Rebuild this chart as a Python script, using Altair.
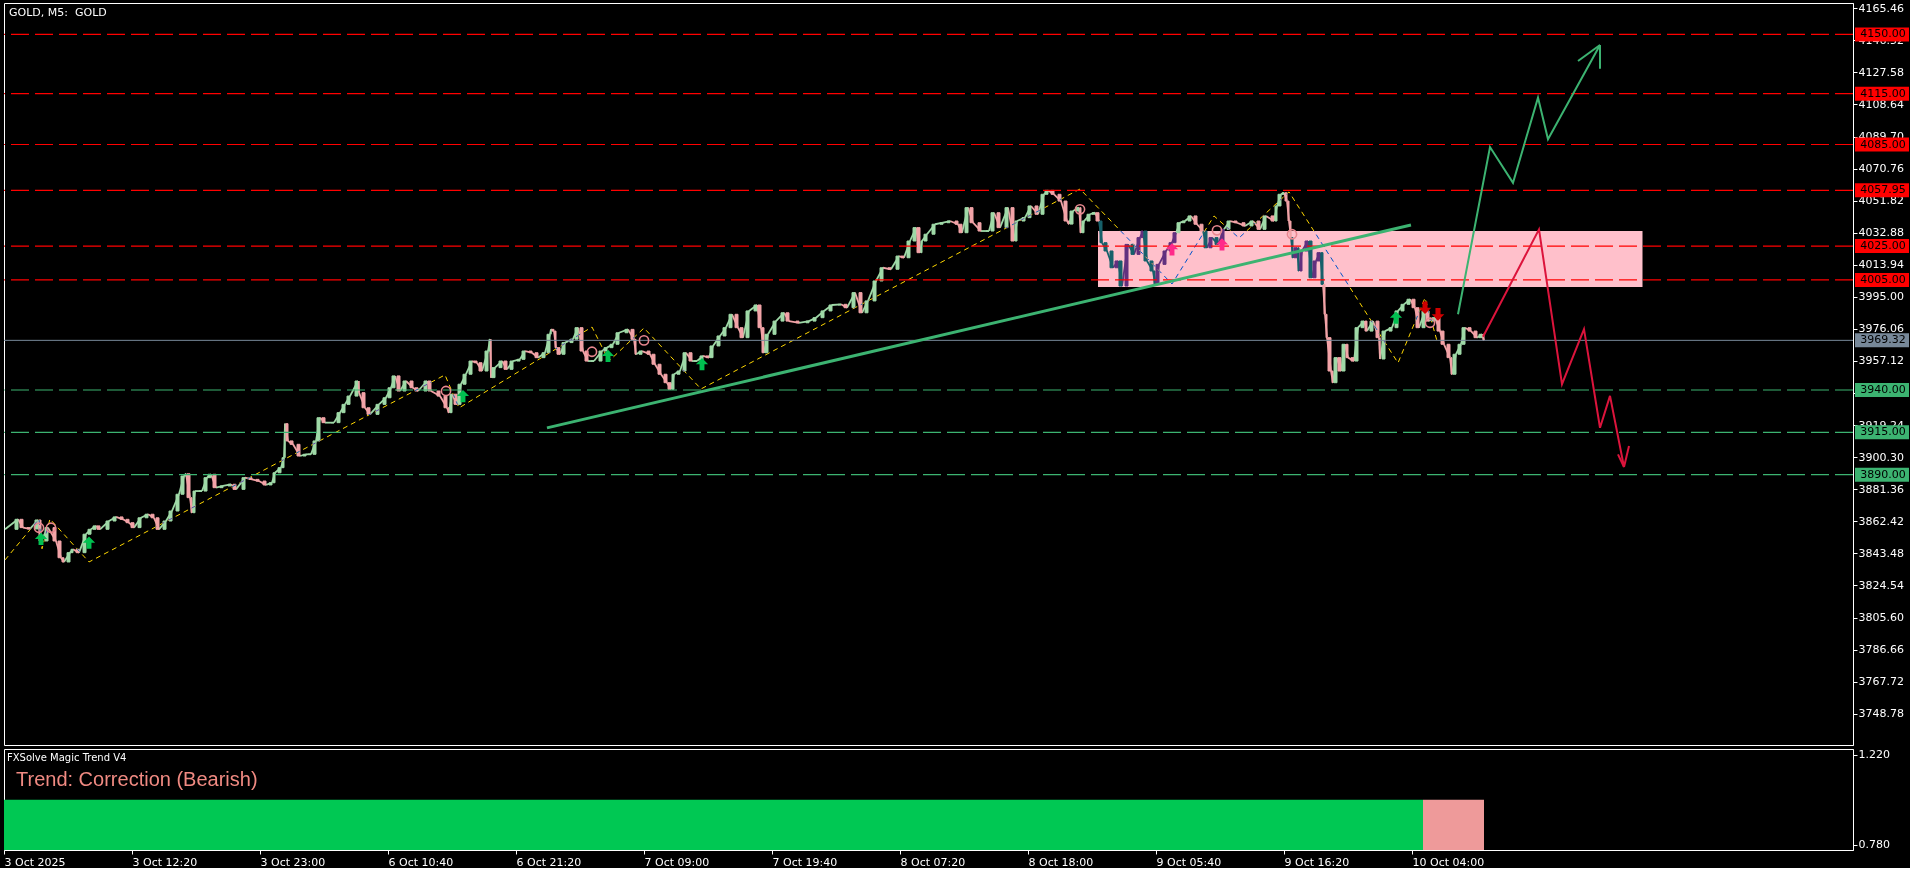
import json
import altair as alt
import pandas as pd

# ---------------------------------------------------------------- data
# one M5 bar per pixel column; bar index 0 is the first bar on the left
TIME_TICKS = [0, 128, 256, 384, 512, 640, 768, 896, 1024, 1152, 1280, 1408]
TIME_LABELS = ["3 Oct 2025", "3 Oct 12:20", "3 Oct 23:00", "6 Oct 10:40", "6 Oct 21:20",
               "7 Oct 09:00", "7 Oct 19:40", "8 Oct 07:20", "8 Oct 18:00", "9 Oct 05:40",
               "9 Oct 16:20", "10 Oct 04:00"]

PRICE_TICKS = [3748.78, 3767.72, 3786.66, 3805.60, 3824.54, 3843.48, 3862.42, 3881.36,
               3900.30, 3919.24, 3938.18, 3957.12, 3976.06, 3995.00, 4013.94, 4032.88,
               4051.82, 4070.76, 4089.70, 4108.64, 4127.58, 4146.52, 4165.46]

RESISTANCE = [4150.00, 4115.00, 4085.00, 4057.95, 4025.00, 4005.00]
SUPPORT = [3940.00, 3915.00, 3890.00]
LAST_PRICE = 3969.32

# price path (bar index, close)
PATH = [
    (1, 3857.7), (14, 3863.6), (19, 3858.7), (26, 3857.9), (34, 3863.2), (37, 3850.8),
    (44, 3858.7), (52, 3850.8), (57, 3840.9), (60, 3838.4), (66, 3843.9), (69, 3845.9),
    (75, 3843.9), (82, 3854.8), (87, 3857.7), (92, 3859.7), (96, 3857.7), (105, 3862.6),
    (112, 3865.0), (119, 3863.6), (125, 3861.6), (130, 3858.7), (137, 3864.5), (144, 3866.6),
    (150, 3864.5), (155, 3857.7), (162, 3862.6), (168, 3868.5), (175, 3878.4), (180, 3889.2),
    (182, 3890.5), (186, 3876.4), (188, 3867.5), (191, 3880.3), (198, 3880.3), (203, 3888.2),
    (207, 3890.2), (212, 3882.3), (219, 3883.3), (227, 3884.3), (232, 3881.3), (241, 3888.2),
    (248, 3887.2), (255, 3886.2), (262, 3883.9), (268, 3885.2), (271, 3891.1), (277, 3894.1),
    (280, 3900.0), (281, 3920.1), (284, 3909.9), (289, 3907.9), (296, 3901.0), (302, 3902.0),
    (307, 3902.0), (312, 3909.9), (316, 3923.6), (321, 3920.7), (330, 3920.7), (336, 3926.6),
    (341, 3931.5), (346, 3936.4), (354, 3945.3), (355, 3938.4), (361, 3929.5), (366, 3925.6),
    (375, 3931.5), (382, 3935.4), (387, 3941.3), (391, 3948.3), (396, 3939.4), (402, 3945.3),
    (409, 3941.3), (414, 3939.4), (423, 3945.3), (427, 3939.4), (436, 3936.4), (443, 3929.5),
    (445, 3926.6), (448, 3937.5), (453, 3931.5), (457, 3943.4), (462, 3949.3), (468, 3957.1),
    (473, 3956.1), (478, 3951.2), (484, 3963.0), (486, 3969.9), (487, 3947.3), (491, 3953.2),
    (498, 3957.1), (503, 3952.2), (509, 3957.1), (516, 3958.1), (521, 3963.0), (528, 3962.0),
    (534, 3959.1), (541, 3962.0), (546, 3972.9), (547, 3975.8), (550, 3974.8), (552, 3965.0),
    (556, 3961.1), (561, 3968.0), (569, 3970.0), (574, 3976.8), (579, 3963.0), (584, 3957.1),
    (590, 3957.1), (598, 3963.0), (603, 3965.0), (609, 3967.0), (615, 3973.8), (624, 3975.8),
    (630, 3969.9), (632, 3961.1), (638, 3963.0), (646, 3961.1), (651, 3955.2), (657, 3949.3),
    (663, 3944.3), (667, 3940.4), (670, 3949.3), (676, 3951.2), (682, 3962.0), (688, 3957.1),
    (693, 3957.1), (699, 3960.1), (705, 3959.1), (709, 3966.0), (716, 3971.9), (722, 3976.8),
    (728, 3984.7), (734, 3976.8), (739, 3970.9), (745, 3986.7), (753, 3990.2), (757, 3976.8),
    (760, 3962.0), (764, 3972.9), (772, 3980.7), (780, 3985.6), (785, 3980.7), (795, 3979.7),
    (805, 3980.7), (812, 3982.7), (820, 3986.7), (828, 3990.2), (837, 3990.6), (843, 3988.6),
    (851, 3997.5), (858, 3985.6), (864, 3992.6), (872, 4004.4), (879, 4012.2), (887, 4011.3),
    (895, 4019.1), (900, 4018.1), (906, 4028.0), (912, 4035.9), (916, 4021.1), (918, 4028.0),
    (923, 4032.0), (931, 4037.9), (939, 4038.8), (946, 4039.8), (954, 4037.9), (958, 4032.9),
    (964, 4047.7), (969, 4038.8), (977, 4033.9), (985, 4033.9), (990, 4044.7), (996, 4035.9),
    (1004, 4047.7), (1010, 4028.0), (1013, 4039.8), (1021, 4041.8), (1027, 4048.7), (1034, 4043.8),
    (1040, 4055.6), (1044, 4057.9), (1050, 4055.6), (1057, 4051.6), (1063, 4039.8), (1065, 4038.0),
    (1069, 4045.7), (1075, 4047.7), (1077, 4032.9), (1080, 4039.8), (1086, 4043.8), (1091, 4044.7),
    (1095, 4039.8), (1098, 4027.0), (1103, 4022.1), (1109, 4012.2), (1114, 4016.2), (1118, 4001.4),
    (1124, 4026.0), (1130, 4020.1), (1136, 4030.0), (1139, 4033.9), (1143, 4016.2), (1149, 4010.3),
    (1151, 4002.4), (1155, 4014.2), (1162, 4022.1), (1168, 4027.0), (1172, 4032.9), (1176, 4038.8),
    (1181, 4039.8), (1187, 4042.8), (1193, 4037.9), (1199, 4033.9), (1203, 4024.0), (1208, 4030.0),
    (1214, 4026.0), (1220, 4034.9), (1226, 4039.8), (1233, 4038.8), (1241, 4036.9), (1249, 4039.8),
    (1256, 4034.9), (1262, 4042.8), (1270, 4039.8), (1273, 4048.7), (1277, 4055.6), (1280, 4056.5),
    (1283, 4051.6), (1285, 4039.8), (1287, 4030.0), (1289, 4018.1), (1293, 4024.0), (1295, 4010.3),
    (1298, 4022.1), (1304, 4028.0), (1308, 4006.3), (1312, 4016.2), (1316, 4021.1), (1319, 4002.4),
    (1321, 3984.7), (1323, 3970.9), (1327, 3951.2), (1329, 3944.3), (1333, 3959.1), (1337, 3951.2),
    (1341, 3967.0), (1344, 3959.1), (1350, 3957.1), (1354, 3976.8), (1360, 3980.7), (1363, 3974.8),
    (1369, 3980.7), (1375, 3970.9), (1376, 3958.3), (1381, 3974.8), (1388, 3976.8), (1394, 3986.7),
    (1400, 3990.6), (1406, 3993.6), (1411, 3988.6), (1415, 3976.8), (1421, 3986.7), (1425, 3980.7),
    (1431, 3982.7), (1436, 3974.8), (1440, 3967.0), (1446, 3959.1), (1448, 3949.3), (1452, 3961.1),
    (1457, 3967.0), (1461, 3976.8), (1467, 3974.8), (1473, 3970.9), (1478, 3972.9), (1480, 3969.3),
]

# zigzag swing points (bar index, price)
ZIGZAG = [
    (1, 3839.6), (35, 3863.8), (38, 3846.2), (46, 3863.8), (85, 3838.4), (441, 3948.9),
    (455, 3929.4), (588, 3977.2), (605, 3957.1), (640, 3976.6), (697, 3940.6), (1076, 4058.7),
    (1168, 4002.6), (1210, 4042.8), (1235, 4029.8), (1285, 4057.0), (1394, 3956.0),
    (1421, 3994.4), (1433, 3969.0),
]

# supply/demand zone: bar range and price range
ZONE = (1094, 1638.5, 4000.8, 4033.9)

# rising trend line endpoints
TREND = [(543, 3917.6), (1407, 4037.5)]

# projected scenarios
BULL_PATH = [(1454, 3984.7), (1486, 4083.5), (1509, 4062.4), (1534, 4112.7), (1544, 4088.1), (1596, 4143.8)]
BULL_HEAD = [(1574, 4134.3), (1596, 4129.8)]
BEAR_PATH = [(1479, 3971.4), (1535, 4034.9), (1558, 3943.4), (1580, 3975.9), (1596, 3917.7),
             (1606, 3936.5), (1620, 3894.5)]
BEAR_HEAD = [(1614, 3902.0), (1625, 3906.9)]

# signal arrows (bar index, price)
BUY_SIGNALS = [(37, 3852.0), (85, 3849.8), (459, 3936.4), (604, 3960.1), (698, 3955.2), (1392, 3982.7)]
ZONE_BUY_SIGNALS = [(1168, 4023.1), (1218, 4026.0)]
SELL_SIGNALS = [(1421, 3988.6), (1434, 3984.7)]
PIVOT_MARKS = [(35, 3858.6), (47, 3858.6), (442, 3939.4), (588, 3962.6), (640, 3969.3),
               (1076, 4046.7), (1213, 4034.3), (1288, 4032.0), (1426, 3979.7)]

# trend state histogram: (from bar, to bar, state)
TREND_STATE = [(0, 1419, "Bullish"), (1419, 1480, "Correction")]

# ---------------------------------------------------------------- styles
FONT = "DejaVu Sans"
W, H_MAIN, H_IND = 1849, 742, 101
X_DOM = [0, 1849]
Y_DOM = [3730.29, 4168.59]
IND_DOM = [0.754, 1.2494]
UP_COL, DOWN_COL = "#9fd9a7", "#f2a3a7"
UP_IN_ZONE, DOWN_IN_ZONE = "#62307e", "#17606a"
RED, GREEN, GREY = "#ff0000", "#3cb371", "#778899"

xs = alt.Scale(domain=X_DOM, nice=False, zero=False)
ys = alt.Scale(domain=Y_DOM, nice=False, zero=False)

y_axis = alt.Axis(orient="right", values=PRICE_TICKS, format=".2f", title=None, grid=False,
                  domainColor="white", tickColor="white", tickSize=4, labelColor="white",
                  labelFont=FONT, labelFontSize=11, labelPadding=1, labelFlush=False,
                  labelOverlap=False)


def X(field):
    return alt.X(field, scale=xs, axis=None)


def Y(field):
    return alt.Y(field, scale=ys, axis=y_axis)


def in_zone(i, p):
    return ZONE[0] <= i <= ZONE[1] and ZONE[2] <= p <= ZONE[3]


# ---------------------------------------------------------------- main panel
zone_df = pd.DataFrame([{"x0": ZONE[0], "x1": ZONE[1], "p0": ZONE[2], "p1": ZONE[3]}])
zone = alt.Chart(zone_df).mark_rect(color="#ffc0cb").encode(
    x=X("x0:Q"), x2="x1:Q", y=Y("p0:Q"), y2="p1:Q")

rows = []
for (i0, p0), (i1, p1) in zip(PATH[:-1], PATH[1:]):
    up = p1 >= p0
    zone_hit = in_zone((i0 + i1) / 2, (p0 + p1) / 2)
    if zone_hit:
        col = UP_IN_ZONE if up else DOWN_IN_ZONE
    else:
        col = UP_COL if up else DOWN_COL
    rows.append({"i0": i0, "i1": i1, "b0": max(i1 - 3, i0 + 1), "open": p0, "close": p1, "col": col})
candle_df = pd.DataFrame(rows)

# thin connecting strokes between closes, then narrow bodies at each close
strokes = alt.Chart(candle_df).mark_rule(strokeWidth=1.8).encode(
    x=X("i0:Q"), x2="i1:Q", y=Y("open:Q"), y2="close:Q",
    color=alt.Color("col:N", scale=None))
bodies = alt.Chart(candle_df).mark_rect(strokeWidth=1).encode(
    x=X("b0:Q"), x2="i1:Q", y=Y("open:Q"), y2="close:Q",
    color=alt.Color("col:N", scale=None), stroke=alt.Stroke("col:N", scale=None))

zz_df = pd.DataFrame(ZIGZAG, columns=["idx", "price"])
zigzag = alt.Chart(zz_df).mark_line(color="#ffd700", strokeWidth=1, strokeDash=[5, 4],
                                    blend="exclusion").encode(x=X("idx:Q"), y=Y("price:Q"))

lev_df = pd.DataFrame([{"price": p, "col": RED, "label": f"{p:.2f}"} for p in RESISTANCE] +
                      [{"price": p, "col": GREEN, "label": f"{p:.2f}"} for p in SUPPORT])
levels = alt.Chart(lev_df).mark_rule(strokeWidth=1.2, strokeDash=[18, 6]).encode(
    y=Y("price:Q"), color=alt.Color("col:N", scale=None))

last_df = pd.DataFrame([{"price": LAST_PRICE, "col": GREY, "label": f"{LAST_PRICE:.2f}"}])
last_line = alt.Chart(last_df).mark_rule(strokeWidth=1, color=GREY).encode(y=Y("price:Q"))

trend_df = pd.DataFrame([{"x0": TREND[0][0], "p0": TREND[0][1], "x1": TREND[1][0], "p1": TREND[1][1]}])
trend = alt.Chart(trend_df).mark_rule(strokeWidth=3, color=GREEN).encode(
    x=X("x0:Q"), x2="x1:Q", y=Y("p0:Q"), y2="p1:Q")

proj_rows = [{"idx": i, "price": p, "col": GREEN, "seq": k} for k, (i, p) in enumerate(BULL_PATH)] + \
            [{"idx": i, "price": p, "col": "#dc143c", "seq": k} for k, (i, p) in enumerate(BEAR_PATH)]
proj = alt.Chart(pd.DataFrame(proj_rows)).mark_line(strokeWidth=2).encode(
    x=X("idx:Q"), y=Y("price:Q"), color=alt.Color("col:N", scale=None), order="seq:Q")

head_rows = [{"x0": BULL_PATH[-1][0], "p0": BULL_PATH[-1][1], "x1": i, "p1": p, "col": GREEN}
             for i, p in BULL_HEAD] + \
            [{"x0": BEAR_PATH[-1][0], "p0": BEAR_PATH[-1][1], "x1": i, "p1": p, "col": "#dc143c"}
             for i, p in BEAR_HEAD]
heads = alt.Chart(pd.DataFrame(head_rows)).mark_rule(strokeWidth=2).encode(
    x=X("x0:Q"), x2="x1:Q", y=Y("p0:Q"), y2="p1:Q", color=alt.Color("col:N", scale=None))

UP_ARROW = "M0,-1L1,0L0.4,0L0.4,1L-0.4,1L-0.4,0L-1,0Z"
DOWN_ARROW = "M0,1L1,0L0.4,0L0.4,-1L-0.4,-1L-0.4,0L-1,0Z"
up_df = pd.DataFrame([{"idx": i, "price": p, "col": "#00c050"} for i, p in BUY_SIGNALS] +
                     [{"idx": i, "price": p, "col": "#ff2a8a"} for i, p in ZONE_BUY_SIGNALS])
up_arrows = alt.Chart(up_df).mark_point(shape=UP_ARROW, filled=True, size=150, strokeWidth=0,
                                        opacity=1).encode(
    x=X("idx:Q"), y=Y("price:Q"), color=alt.Color("col:N", scale=None))
dn_df = pd.DataFrame(SELL_SIGNALS, columns=["idx", "price"])
dn_arrows = alt.Chart(dn_df).mark_point(shape=DOWN_ARROW, filled=True, size=160, strokeWidth=0,
                                        color="#d00000", opacity=1).encode(x=X("idx:Q"), y=Y("price:Q"))

pv_df = pd.DataFrame(PIVOT_MARKS, columns=["idx", "price"])
pivots = alt.Chart(pv_df).mark_point(shape="circle", filled=False, size=85, strokeWidth=1.6,
                                     color="#e8878f", opacity=1).encode(x=X("idx:Q"), y=Y("price:Q"))

box_df = pd.concat([lev_df, last_df], ignore_index=True)
BOX = "M-1,-0.2593L1,-0.2593L1,0.2593L-1,0.2593Z"
boxes = alt.Chart(box_df).mark_point(shape=BOX, filled=True, size=2916, strokeWidth=0,
                                     opacity=1).encode(
    x=alt.value(1878), y=Y("price:Q"), color=alt.Color("col:N", scale=None))
box_text = alt.Chart(box_df).mark_text(font=FONT, fontSize=11, color="black", align="center",
                                       baseline="middle").encode(
    x=alt.value(1879), y=Y("price:Q"), text="label:N")

title_df = pd.DataFrame([{"t": "GOLD, M5:\u00a0 GOLD"}])
title = alt.Chart(title_df).mark_text(font=FONT, fontSize=11, color="white", align="left",
                                      baseline="middle").encode(
    x=alt.value(5), y=alt.value(10), text="t:N")

main = alt.layer(zone, strokes, bodies, zigzag, levels, last_line, trend, proj, heads,
                 up_arrows, dn_arrows, pivots, boxes, box_text, title).properties(
    width=W, height=H_MAIN)

# ---------------------------------------------------------------- indicator panel
label_expr = f"{json.dumps(TIME_LABELS)}[indexof({json.dumps(TIME_TICKS)}, datum.value)]"
x_axis = alt.Axis(values=TIME_TICKS, labelExpr=label_expr, title=None, grid=False, domain=False,
                  tickColor="white", tickSize=4, labelColor="white", labelFont=FONT,
                  labelFontSize=11, labelAlign="left", labelBaseline="top", labelPadding=2,
                  labelFlush=False, labelOverlap=False)
ind_axis = alt.Axis(orient="right", values=[0.78, 1.22], format=".3f", title=None, grid=False,
                    domainColor="white", tickColor="white", tickSize=4, labelColor="white",
                    labelFont=FONT, labelFontSize=11, labelPadding=1, labelFlush=False)

state_df = pd.DataFrame([{"x0": a, "x1": b, "state": s, "top": 1.0, "base": IND_DOM[0]}
                         for a, b, s in TREND_STATE])
state_bars = alt.Chart(state_df).mark_rect().encode(
    x=alt.X("x0:Q", scale=xs, axis=x_axis), x2="x1:Q",
    y=alt.Y("top:Q", scale=alt.Scale(domain=IND_DOM, nice=False, zero=False), axis=ind_axis),
    y2="base:Q",
    color=alt.Color("state:N", scale=alt.Scale(domain=["Bullish", "Correction"],
                                               range=["#00c853", "#ee9a9a"]), legend=None))

ind_name = alt.Chart(pd.DataFrame([{"t": "FXSolve Magic Trend V4"}])).mark_text(
    font=FONT, fontSize=10, color="white", align="left", baseline="middle").encode(
    x=alt.value(3), y=alt.value(9), text="t:N")
ind_state = alt.Chart(pd.DataFrame([{"t": "Trend: Correction (Bearish)"}])).mark_text(
    font="Liberation Sans", fontSize=20, color="#f08a82", align="left", baseline="middle").encode(
    x=alt.value(12), y=alt.value(31), text="t:N")

ind = alt.layer(state_bars, ind_name, ind_state).properties(width=W, height=H_IND)

chart = alt.vconcat(main, ind, spacing=2).properties(
    padding={"left": 2, "top": 1, "right": 0, "bottom": 0},
    background="black",
).configure_view(stroke="white", strokeWidth=1, fill="black")

chart.save("out.html", embed_options={"renderer": "svg", "actions": False})
